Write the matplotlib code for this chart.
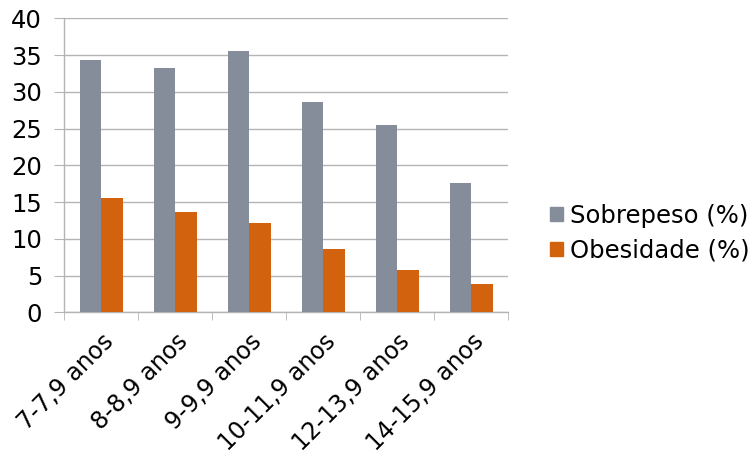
import numpy as np
import matplotlib
matplotlib.use("Agg")
import matplotlib.pyplot as plt
from matplotlib.patches import Patch

# Age groups and prevalence values (%)
faixas = ["7-7,9 anos", "8-8,9 anos", "9-9,9 anos",
          "10-11,9 anos", "12-13,9 anos", "14-15,9 anos"]
sobrepeso = [34.3, 33.2, 35.6, 28.6, 25.5, 17.6]
obesidade = [15.6, 13.6, 12.2, 8.6, 5.75, 3.9]

cor_sobrepeso = "#858d9a"
cor_obesidade = "#d2620e"
cor_grade = "#b4b4b4"

plt.rcParams["font.family"] = ["DejaVu Sans"]
tam = 17.5

fig = plt.figure(figsize=(7.52, 4.59), dpi=100)
ax = fig.add_axes([0.0855, 0.3196, 0.5905, 0.6405])

x = np.arange(len(faixas))
largura = 0.288
ax.bar(x - largura / 2, sobrepeso, largura, color=cor_sobrepeso, zorder=3)
ax.bar(x + largura / 2, obesidade, largura, color=cor_obesidade, zorder=3)

ax.set_xlim(-0.5, len(faixas) - 0.5)
ax.set_ylim(0, 40)
ax.set_yticks(range(0, 41, 5))
ax.tick_params(axis="y", labelsize=tam, length=7, color=cor_grade, pad=9)

# category labels sit at centres, tick marks at the group boundaries
ax.set_xticks(x)
ax.set_xticklabels(faixas, rotation=45, ha="right", rotation_mode="anchor", fontsize=17)
ax.tick_params(axis="x", which="major", length=0, pad=12)
ax.set_xticks(np.arange(-0.5, len(faixas)), minor=True)
ax.tick_params(axis="x", which="minor", length=6, color=cor_grade)

ax.yaxis.grid(True, color=cor_grade, linewidth=1, zorder=0)
ax.set_axisbelow(True)
for lado in ["top", "right"]:
    ax.spines[lado].set_visible(False)
for lado in ["left", "bottom"]:
    ax.spines[lado].set_color(cor_grade)
    ax.spines[lado].set_linewidth(1)

handles = [Patch(color=cor_sobrepeso, label="Sobrepeso (%)"),
           Patch(color=cor_obesidade, label="Obesidade (%)")]
fig.legend(handles=handles, loc="center left", bbox_to_anchor=(0.731, 0.492),
           frameon=False, fontsize=tam, handlelength=0.55, handleheight=0.55,
           handletextpad=0.3, labelspacing=0.45, borderpad=0, borderaxespad=0)

fig.savefig("out.png", dpi=100)
